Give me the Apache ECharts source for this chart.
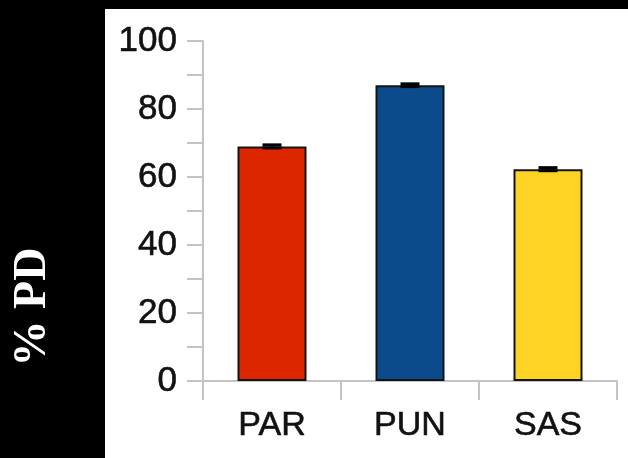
<!DOCTYPE html>
<html>
<head>
<meta charset="utf-8">
<script src="https://cdn.jsdelivr.net/npm/echarts@6/dist/echarts.min.js"></script>
<style>
  html, body { margin: 0; padding: 0; background: #fff; }
  #chart { width: 628px; height: 458px; }
</style>
</head>
<body>
<div id="chart"></div>
<script>
// Groups, mean %PD and the error half-width for each group
const categories = ['PAR', 'PUN', 'SAS'];
const values = [69, 87, 62.3];
const errors = [0.45, 0.4, 0.45];
const barColors = ['#dc2600', '#0b4a8b', '#fed323'];
const yTicks = { min: 0, max: 100, step: 20 };

const chart = echarts.init(document.getElementById('chart'));

const axisGray = '#c4c4c4';
const labelStyle = {
  fontFamily: 'Liberation Sans, Arial, sans-serif',
  color: '#111',
  textBorderColor: '#111',
  textBorderWidth: 0.6
};

chart.setOption({
  backgroundColor: '#ffffff',
  animation: false,
  graphic: [
    // black frame along the top and the left side
    { type: 'rect', left: 0, top: 0, shape: { width: 628, height: 9 }, style: { fill: '#000' } },
    { type: 'rect', left: 0, top: 0, shape: { width: 105, height: 458 }, style: { fill: '#000' } },
    {
      type: 'text',
      x: 33, y: 307,
      rotation: Math.PI / 2,
      style: {
        text: '% PD',
        fill: '#fff',
        font: 'bold 46px "Liberation Serif", "Times New Roman", serif',
        align: 'center',
        verticalAlign: 'middle'
      }
    }
  ],
  grid: { left: 203, right: 11, top: 41, bottom: 77 },
  xAxis: {
    type: 'category',
    data: categories,
    boundaryGap: true,
    axisLine: { lineStyle: { color: axisGray, width: 2 } },
    axisTick: { show: true, length: 19, lineStyle: { color: axisGray, width: 2 } },
    axisLabel: Object.assign({ margin: 28, fontSize: 34 }, labelStyle)
  },
  yAxis: {
    type: 'value',
    min: yTicks.min,
    max: yTicks.max,
    interval: yTicks.step,
    splitLine: { show: false },
    axisLine: { show: true, lineStyle: { color: axisGray, width: 2 } },
    axisTick: { show: true, length: 16, lineStyle: { color: axisGray, width: 2 } },
    minorTick: { show: true, splitNumber: 2, length: 16, lineStyle: { color: axisGray, width: 2 } },
    axisLabel: Object.assign({ margin: 26, fontSize: 35 }, labelStyle)
  },
  series: [
    {
      type: 'bar',
      barWidth: '50%',
      data: values.map((v, i) => ({
        value: v,
        itemStyle: { color: barColors[i], borderColor: '#141414', borderWidth: 2 }
      })),
      z: 2
    },
    {
      // error bars: stem plus caps at value ± error
      type: 'custom',
      z: 3,
      data: values.map((v, i) => [i, v, errors[i]]),
      renderItem: function (params, api) {
        const x = api.value(0);
        const v = api.value(1);
        const e = api.value(2);
        const hi = api.coord([x, v + e]);
        const lo = api.coord([x, v - e]);
        const half = 9.5;
        const style = { stroke: '#000', lineWidth: 3 };
        return {
          type: 'group',
          children: [
            { type: 'line', shape: { x1: hi[0], y1: hi[1], x2: lo[0], y2: lo[1] }, style: style },
            { type: 'line', shape: { x1: hi[0] - half, y1: hi[1], x2: hi[0] + half, y2: hi[1] }, style: style },
            { type: 'line', shape: { x1: lo[0] - half, y1: lo[1], x2: lo[0] + half, y2: lo[1] }, style: style }
          ]
        };
      }
    }
  ]
});
</script>
</body>
</html>
